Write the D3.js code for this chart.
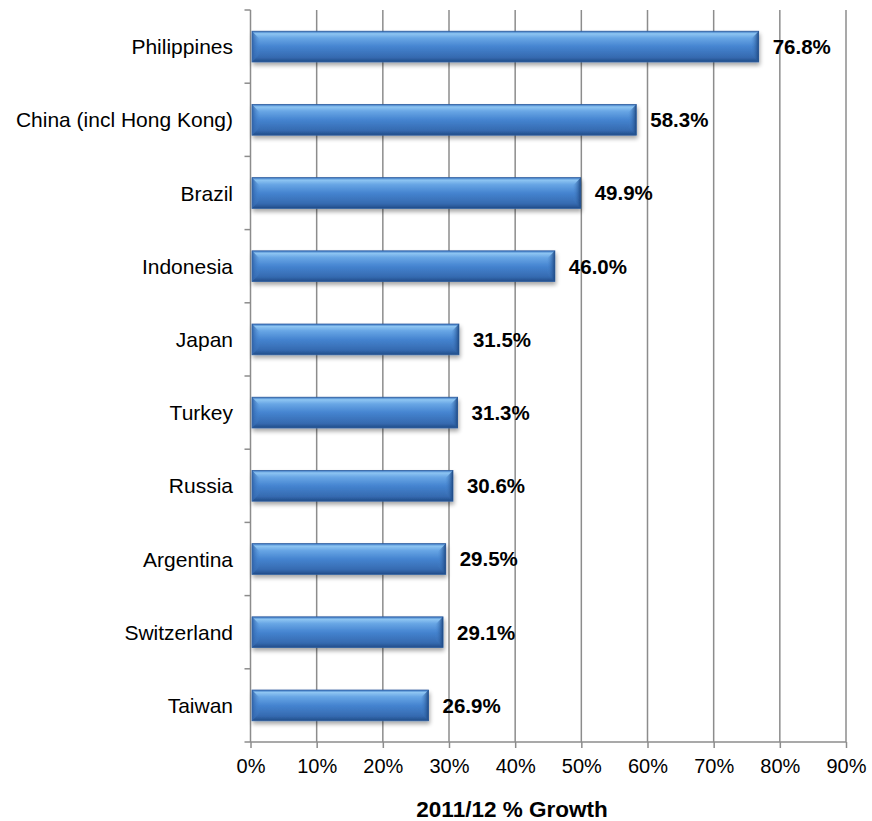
<!DOCTYPE html>
<html><head><meta charset="utf-8">
<script src="https://cdn.jsdelivr.net/npm/d3@7"></script>
<style>body{margin:0;background:#fff}svg{display:block}text{font-family:"Liberation Sans",Arial,sans-serif}</style>
</head><body><svg id="c" width="872" height="821"></svg>
<script>
const categories = ["Philippines","China (incl Hong Kong)","Brazil","Indonesia","Japan","Turkey","Russia","Argentina","Switzerland","Taiwan"];
const values = [76.8,58.3,49.9,46.0,31.5,31.3,30.6,29.5,29.1,26.9];
const tickValues = [0,10,20,30,40,50,60,70,80,90];
const axisTitle = "2011/12 % Growth";

const svg = d3.select("#c");
const L=250.5, R=846, T=10, B=742;
const x = d3.scaleLinear().domain([0,90]).range([L,R]);
const y = d3.scaleBand().domain(categories).range([T,B]).paddingInner(0.58).paddingOuter(0.29);

const defs = svg.append("defs");
const g = defs.append("linearGradient").attr("id","bg").attr("x1",0).attr("y1",0).attr("x2",0).attr("y2",1);
[[0,"#3572c0"],[0.08,"#8ec5f2"],[0.22,"#68a6e5"],[0.5,"#4584d0"],[0.85,"#356ab0"],[1,"#214c88"]].forEach(s=>g.append("stop").attr("offset",s[0]).attr("stop-color",s[1]));
const gl = defs.append("linearGradient").attr("id","capL").attr("x1",0).attr("y1",0).attr("x2",1).attr("y2",0);
gl.append("stop").attr("offset",0).attr("stop-color","#2f62a8");gl.append("stop").attr("offset",1).attr("stop-color","#4a88d2").attr("stop-opacity",0);
const gr = defs.append("linearGradient").attr("id","capR").attr("x1",0).attr("y1",0).attr("x2",1).attr("y2",0);
gr.append("stop").attr("offset",0).attr("stop-color","#4a88d2").attr("stop-opacity",0);gr.append("stop").attr("offset",1).attr("stop-color","#1f4a85");
const f = defs.append("filter").attr("id","sh").attr("x","-5%").attr("y","-30%").attr("width","110%").attr("height","180%");
f.append("feGaussianBlur").attr("in","SourceAlpha").attr("stdDeviation",2).attr("result","b");
f.append("feOffset").attr("in","b").attr("dx",1).attr("dy",3).attr("result","o");
f.append("feComponentTransfer").attr("in","o").attr("result","o2").append("feFuncA").attr("type","linear").attr("slope",0.35);
const m=f.append("feMerge");m.append("feMergeNode").attr("in","o2");m.append("feMergeNode").attr("in","SourceGraphic");

// gridlines
svg.append("g").selectAll("line").data(tickValues.slice(1)).join("line")
  .attr("x1",d=>x(d)).attr("x2",d=>x(d)).attr("y1",T).attr("y2",B)
  .attr("stroke","#8c8c8c").attr("stroke-width",1.5);

// x axis
const xa = svg.append("g").attr("transform",`translate(0,${B})`)
  .call(d3.axisBottom(x).tickValues(tickValues).tickFormat(d=>d+"%").tickSize(6).tickSizeOuter(0));
xa.select(".domain").attr("stroke","#8c8c8c").attr("stroke-width",1.5).attr("d",`M${L-6},0H${R}`);
xa.selectAll(".tick line").attr("stroke","#8c8c8c").attr("stroke-width",1.5);
xa.selectAll(".tick text").attr("font-size",20).attr("fill","#000").attr("y",31).attr("dy",0).attr("font-family","'Liberation Sans',Arial,sans-serif");

// y axis
const bounds = categories.map((c,i)=>T+i*(B-T)/categories.length);
svg.append("line").attr("x1",L).attr("x2",L).attr("y1",T).attr("y2",B).attr("stroke","#8c8c8c").attr("stroke-width",1.5);
svg.append("g").selectAll("line").data(bounds).join("line")
  .attr("x1",L-6).attr("x2",L).attr("y1",d=>d).attr("y2",d=>d).attr("stroke","#8c8c8c").attr("stroke-width",1.5);
svg.append("g").selectAll("text").data(categories).join("text")
  .attr("x",L-17.5).attr("y",d=>y(d)+y.bandwidth()/2).attr("dy","0.36em").attr("text-anchor","end")
  .attr("font-size",21).attr("fill","#000").text(d=>d);

// bars
const h = y.bandwidth(), bv = Math.min(8,h/3);
const bars = svg.append("g").selectAll("g").data(categories).join("g").attr("filter","url(#sh)");
bars.append("rect").attr("x",x(0)+1.5).attr("y",d=>y(d)).attr("width",(d,i)=>x(values[i])-x(0)-1.5).attr("height",h)
  .attr("fill","url(#bg)").attr("stroke","#2f5f9f").attr("stroke-width",0.8);
bars.append("path").attr("fill","url(#capL)").attr("d",d=>{const x0=x(0)+1.5,y0=y(d),y1=y0+h;return `M${x0},${y0}L${x0+bv},${y0+bv}L${x0+bv},${y1-bv}L${x0},${y1}Z`;});
bars.append("path").attr("fill","url(#capR)").attr("d",(d,i)=>{const x1=x(values[i]),y0=y(d),y1=y0+h;return `M${x1},${y0}L${x1-bv},${y0+bv}L${x1-bv},${y1-bv}L${x1},${y1}Z`;});

// value labels
svg.append("g").selectAll("text").data(categories).join("text")
  .attr("x",(d,i)=>x(values[i])+14).attr("y",d=>y(d)+h/2).attr("dy","0.36em")
  .attr("font-size",20.5).attr("font-weight","bold").attr("fill","#000").text((d,i)=>values[i].toFixed(1)+"%");

svg.append("text").attr("x",512).attr("y",817).attr("text-anchor","middle").attr("font-size",22.5).attr("font-weight","bold").text(axisTitle);
</script></body></html>
